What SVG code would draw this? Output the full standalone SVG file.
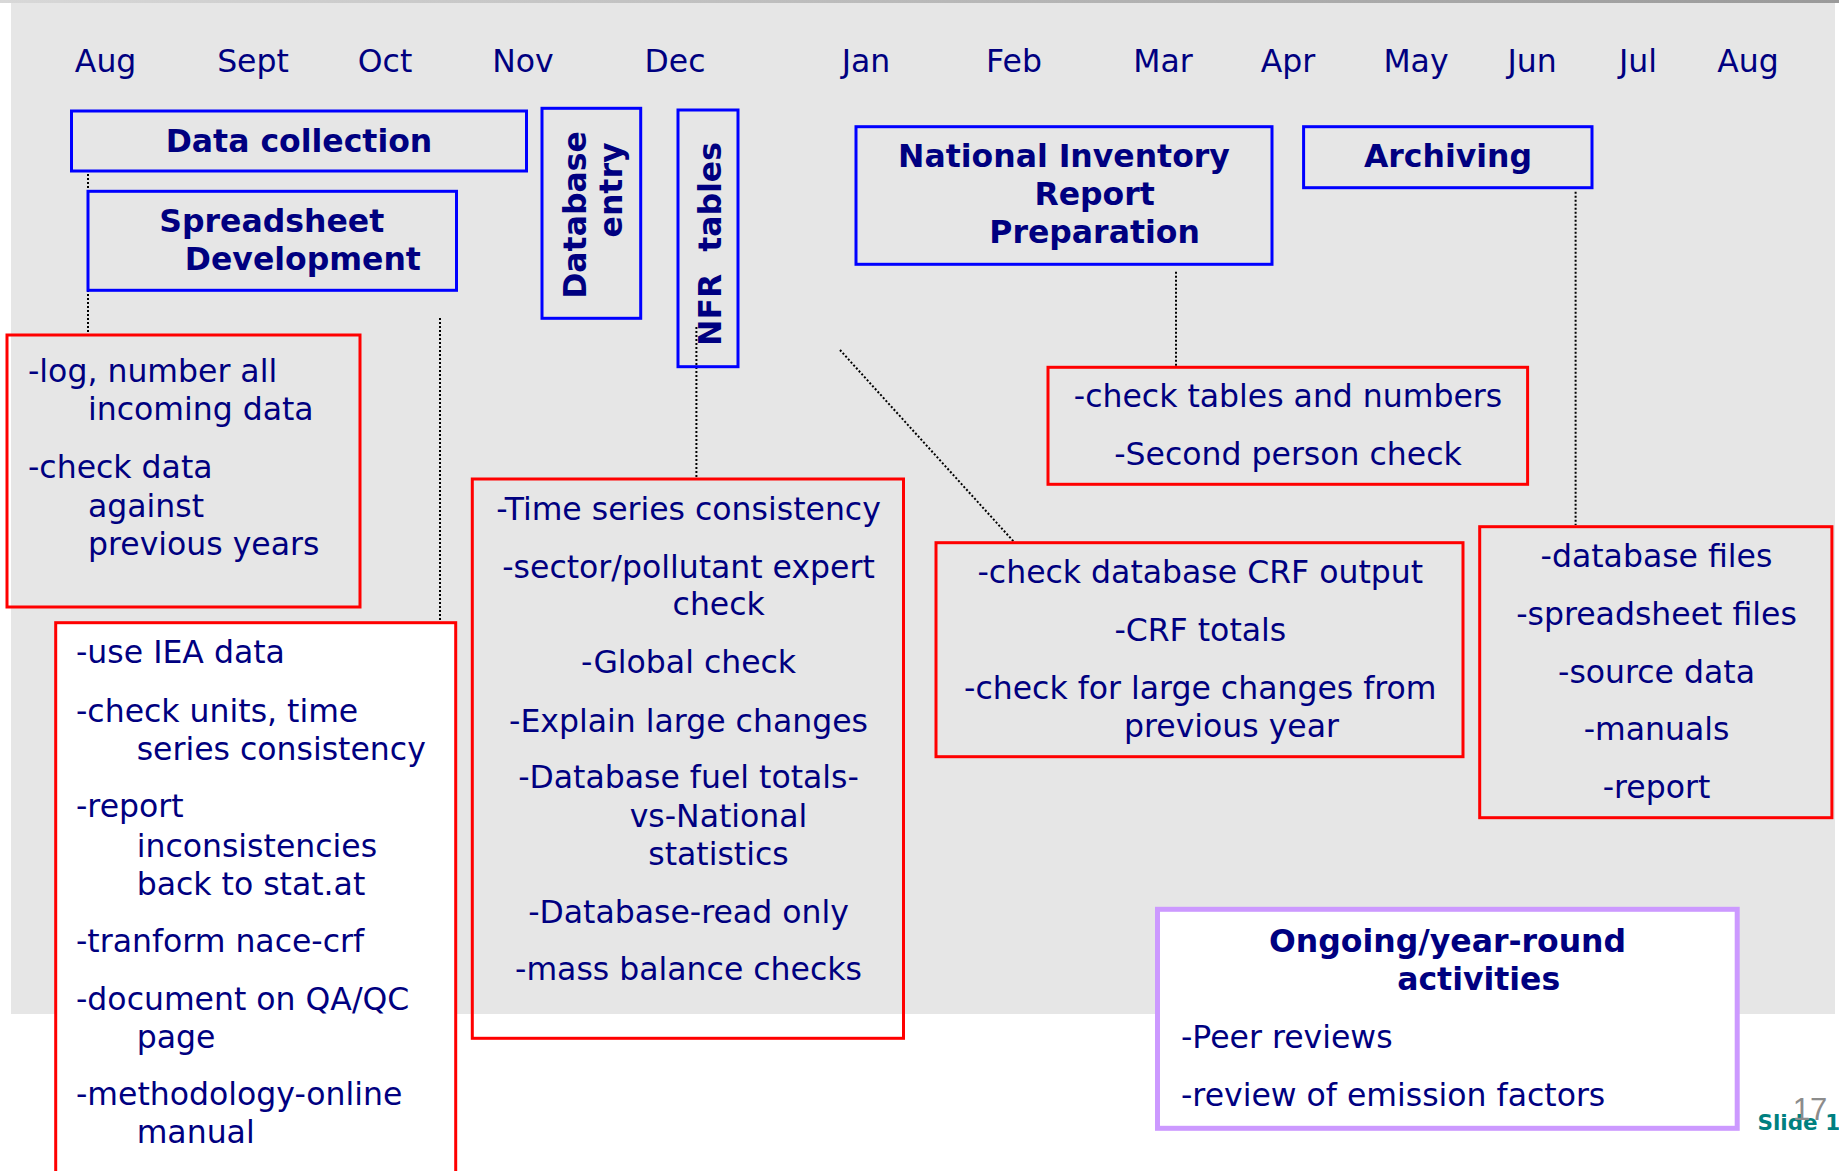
<svg xmlns="http://www.w3.org/2000/svg" width="1839" height="1171" viewBox="0 0 1839 1171">
<defs>
<linearGradient id="topg" x1="0" x2="1" y1="0" y2="0"><stop offset="0" stop-color="#d8d8d8"/><stop offset="1" stop-color="#9a9a9a"/></linearGradient>
<style>
.t{font-family:'DejaVu Sans',Verdana,sans-serif;font-size:31.5px;fill:#000080}
.b{font-weight:bold}
.m{text-anchor:middle}
.blue{fill:none;stroke:#0000ff;stroke-width:3}
.red{fill:none;stroke:#ff0000;stroke-width:3}
.dot{stroke:#000;stroke-width:2;stroke-dasharray:2 2;fill:none}
</style>
</defs>
<rect x="0" y="0" width="1839" height="1171" fill="#ffffff"/>
<rect x="11" y="0" width="1824" height="1014" fill="#e6e6e6"/>
<rect x="0" y="0" width="1839" height="3" fill="url(#topg)"/>

<g id="months" class="t m">
<text x="105.6" y="71.7">Aug</text>
<text x="253" y="71.7">Sept</text>
<text x="385" y="71.7">Oct</text>
<text x="523" y="71.7">Nov</text>
<text x="675" y="71.7">Dec</text>
<text x="866" y="71.7">Jan</text>
<text x="1014" y="71.7">Feb</text>
<text x="1163" y="71.7">Mar</text>
<text x="1288" y="71.7">Apr</text>
<text x="1416" y="71.7">May</text>
<text x="1532" y="71.7">Jun</text>
<text x="1638" y="71.7">Jul</text>
<text x="1748" y="71.7">Aug</text>
</g>

<g id="connectors">
<line class="dot" x1="88" y1="174" x2="88" y2="333"/>
<line class="dot" x1="440" y1="318" x2="440" y2="621"/>
<line class="dot" x1="696.4" y1="327" x2="696.4" y2="477"/>
<line class="dot" x1="840" y1="350" x2="1013.8" y2="541.7"/>
<line class="dot" x1="1176" y1="271.7" x2="1176" y2="366"/>
<line class="dot" x1="1575.6" y1="191.7" x2="1575.6" y2="525"/>
</g>

<g id="data-collection">
<rect class="blue" x="71.5" y="111" width="455" height="60"/>
<text class="t b m" x="299" y="151.7">Data collection</text>
</g>

<g id="spreadsheet-development">
<rect class="blue" x="88" y="191.3" width="368.5" height="99"/>
<text class="t b m" x="271.8" y="231.7">Spreadsheet</text>
<text class="t b m" x="302.9" y="270">Development</text>
</g>

<g id="database-entry">
<rect class="blue" x="542" y="108.3" width="98.7" height="210"/>
<text class="t b m" transform="translate(586,215) rotate(-90)">Database</text>
<text class="t b m" transform="translate(622,190) rotate(-90)">entry</text>
</g>

<g id="nfr-tables">
<rect class="blue" x="678" y="110" width="60" height="256.7"/>
<text class="t b m" transform="translate(721,244) rotate(-90)" style="white-space:pre">NFR  tables</text>
</g>

<g id="nir-preparation">
<rect class="blue" x="856" y="126.7" width="416" height="137.6"/>
<text class="t b m" x="1064" y="166.7">National Inventory</text>
<text class="t b m" x="1094.6" y="205">Report</text>
<text class="t b m" x="1094.6" y="243.3">Preparation</text>
</g>

<g id="archiving">
<rect class="blue" x="1303.6" y="126.7" width="288.4" height="61"/>
<text class="t b m" x="1448" y="166.7">Archiving</text>
</g>

<g id="data-collection-checks">
<rect class="red" x="7" y="335" width="353" height="272"/>
<text class="t" x="28" y="381.7">-log, number all</text>
<text class="t" x="88" y="420">incoming data</text>
<text class="t" x="28" y="478.3">-check data</text>
<text class="t" x="88" y="516.7">against</text>
<text class="t" x="88" y="555">previous years</text>
</g>

<g id="spreadsheet-checks">
<rect x="55.7" y="622.7" width="400" height="600" fill="#ffffff" stroke="#ff0000" stroke-width="3"/>
<text class="t" x="76" y="663.3">-use IEA data</text>
<text class="t" x="76" y="721.7">-check units, time</text>
<text class="t" x="136.7" y="760">series consistency</text>
<text class="t" x="76" y="816.7">-report</text>
<text class="t" x="136.7" y="856.7">inconsistencies</text>
<text class="t" x="136.7" y="895">back to stat.at</text>
<text class="t" x="76" y="951.7">-tranform nace-crf</text>
<text class="t" x="76" y="1010">-document on QA/QC</text>
<text class="t" x="136.7" y="1048.3">page</text>
<text class="t" x="76" y="1105">-methodology-online</text>
<text class="t" x="136.7" y="1143.3">manual</text>
</g>

<g id="database-checks">
<rect class="red" x="472.3" y="479" width="431.2" height="559.3"/>
<text class="t m" x="688.5" y="520">-Time series consistency</text>
<text class="t m" x="688.5" y="578.3">-sector/pollutant expert</text>
<text class="t m" x="718.7" y="615">check</text>
<text class="t m" x="688.5" y="673.3">-Global check</text>
<text class="t m" x="688.5" y="731.7">-Explain large changes</text>
<text class="t m" x="688.5" y="788.3">-Database fuel totals-</text>
<text class="t m" x="718.5" y="826.7">vs-National</text>
<text class="t m" x="718.5" y="865">statistics</text>
<text class="t m" x="688.5" y="923.3">-Database-read only</text>
<text class="t m" x="688.5" y="980">-mass balance checks</text>
</g>

<g id="nir-checks">
<rect class="red" x="1048" y="367.3" width="479.6" height="117"/>
<text class="t m" x="1288" y="407.3">-check tables and numbers</text>
<text class="t m" x="1288" y="465">-Second person check</text>
</g>

<g id="crf-checks">
<rect class="red" x="936" y="542.7" width="527" height="214"/>
<text class="t m" x="1200.3" y="583.3">-check database CRF output</text>
<text class="t m" x="1200.3" y="640.7">-CRF totals</text>
<text class="t m" x="1200.3" y="699.3">-check for large changes from</text>
<text class="t m" x="1231.5" y="736.7">previous year</text>
</g>

<g id="archive-items">
<rect class="red" x="1479.7" y="526.7" width="352.2" height="291"/>
<text class="t m" x="1656.5" y="566.7">-database files</text>
<text class="t m" x="1656.5" y="625">-spreadsheet files</text>
<text class="t m" x="1656.5" y="683.3">-source data</text>
<text class="t m" x="1656.5" y="740">-manuals</text>
<text class="t m" x="1656.5" y="798.3">-report</text>
</g>

<g id="ongoing">
<rect x="1157.5" y="909.3" width="579.7" height="219" fill="#ffffff" stroke="#cc99ff" stroke-width="5"/>
<text class="t b m" x="1447.6" y="951.7">Ongoing/year-round</text>
<text class="t b m" x="1478.7" y="990">activities</text>
<text class="t" x="1181" y="1048.3">-Peer reviews</text>
<text class="t" x="1181" y="1106">-review of emission factors</text>
</g>

<g id="slide-number">
<text x="1757.5" y="1130" style="font-family:'DejaVu Sans',Verdana,sans-serif;font-size:21.5px;font-weight:bold;fill:#008080">Slide 1</text>
<text x="1792.8" y="1120" style="font-family:'Liberation Sans',Arial,sans-serif;font-size:31px;fill:#8c8c8c">17</text>
</g>
</svg>
